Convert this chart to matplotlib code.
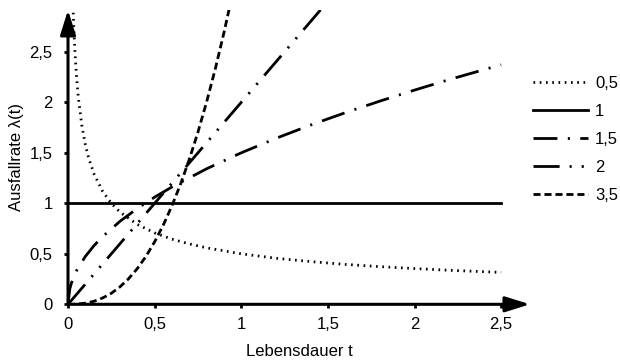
#!/usr/bin/env python3
"""Ausfallrate lambda(t) over Lebensdauer t for several Weibull shape values."""
import matplotlib
matplotlib.use('Agg')
import matplotlib.pyplot as plt
from matplotlib.ticker import FuncFormatter

plt.rcParams.update({
    'font.family': ['Liberation Sans', 'DejaVu Sans'],
    'font.size': 12,
})

# --- Data ---
shape_labels = ['0,5', '1', '1,5', '2', '3,5']

t_05 = [0.03, 0.035, 0.04, 0.05, 0.06, 0.08, 0.1, 0.12, 0.15, 0.2, 0.25, 0.3,
        0.4, 0.5, 0.6, 0.7, 0.8, 1.0, 1.2, 1.4, 1.6, 1.8, 2.0, 2.2, 2.5]
lam_05 = [2.887, 2.673, 2.5, 2.236, 2.041, 1.768, 1.581, 1.443, 1.291, 1.118,
          1.0, 0.913, 0.791, 0.707, 0.645, 0.598, 0.559, 0.5, 0.456, 0.423,
          0.395, 0.373, 0.354, 0.337, 0.316]

t_1 = [0.0, 2.5]
lam_1 = [1.0, 1.0]

t_15 = [0.0, 0.01, 0.02, 0.05, 0.1, 0.15, 0.2, 0.3, 0.4, 0.5, 0.6, 0.8, 1.0,
        1.2, 1.4, 1.6, 1.8, 2.0, 2.2, 2.5]
lam_15 = [0.0, 0.15, 0.212, 0.335, 0.474, 0.581, 0.671, 0.822, 0.949, 1.061,
          1.162, 1.342, 1.5, 1.643, 1.775, 1.897, 2.012, 2.121, 2.225, 2.372]

t_2 = [0.0, 1.5]
lam_2 = [0.0, 3.0]

t_35 = [0.0, 0.05, 0.1, 0.15, 0.2, 0.25, 0.3, 0.35, 0.4, 0.45, 0.5, 0.55,
        0.6, 0.65, 0.7, 0.75, 0.8, 0.85, 0.9, 0.95]
lam_35 = [0.0, 0.002, 0.011, 0.030, 0.063, 0.109, 0.173, 0.254, 0.354, 0.475,
          0.619, 0.785, 0.976, 1.192, 1.435, 1.705, 2.004, 2.331, 2.689, 3.079]

x_ticks = [0, 0.5, 1, 1.5, 2, 2.5]
y_ticks = [0, 0.5, 1, 1.5, 2, 2.5]

# --- Plot ---
fig = plt.figure(figsize=(6.2, 3.6), dpi=100)
ax = fig.add_axes([0.1097, 0.1547, 0.745, 0.8175])
ax.set_xlim(0, 2.666)
ax.set_ylim(0, 2.914)

lw = 2.0
styles = [
    (0, (0.6, 1.65)),                        # dotted
    '-',                                     # solid
    (0, (8.6, 3.75, 0.75, 3.75)),            # long dash, dot
    (0, (9.4, 3.6, 0.75, 3.6, 0.75, 3.6)),   # long dash, dot, dot
    (0, (2.55, 1.4)),                        # short dashes
]
series = [(t_05, lam_05), (t_1, lam_1), (t_15, lam_15), (t_2, lam_2), (t_35, lam_35)]
for (t, lam), ls, lab in zip(series, styles, shape_labels):
    ax.plot(t, lam, color='black', linewidth=lw, linestyle=ls,
            dash_capstyle='butt', label=lab)

# axes drawn as arrows
for sp in ax.spines.values():
    sp.set_visible(False)
arrow = dict(arrowstyle='-|>,head_length=1.5,head_width=0.47', lw=2.2,
             color='black', mutation_scale=10, shrinkA=0, shrinkB=0)
ax.annotate('', xy=(1, 0), xytext=(0, 0), xycoords='axes fraction',
            arrowprops=arrow, annotation_clip=False)
ax.annotate('', xy=(0, 1), xytext=(0, 0), xycoords='axes fraction',
            arrowprops=arrow, annotation_clip=False)

comma = FuncFormatter(lambda v, p: f'{v:g}'.replace('.', ','))
ax.set_xticks(x_ticks)
ax.set_yticks(y_ticks)
ax.xaxis.set_major_formatter(comma)
ax.yaxis.set_major_formatter(comma)
ax.tick_params(axis='both', direction='out', length=3, width=2, pad=6)
ax.tick_params(axis='y', pad=8)

ax.set_xlabel('Lebensdauer t', labelpad=9)
ax.set_ylabel('Ausfallrate λ(t)', labelpad=4)

ax.legend(loc='upper left', bbox_to_anchor=(0.86, 0.79),
          bbox_transform=fig.transFigure, frameon=False,
          borderpad=0, borderaxespad=0, handlelength=3.3,
          handletextpad=0.42, labelspacing=0.78)

fig.savefig('out.png', dpi=100)
plt.close(fig)
